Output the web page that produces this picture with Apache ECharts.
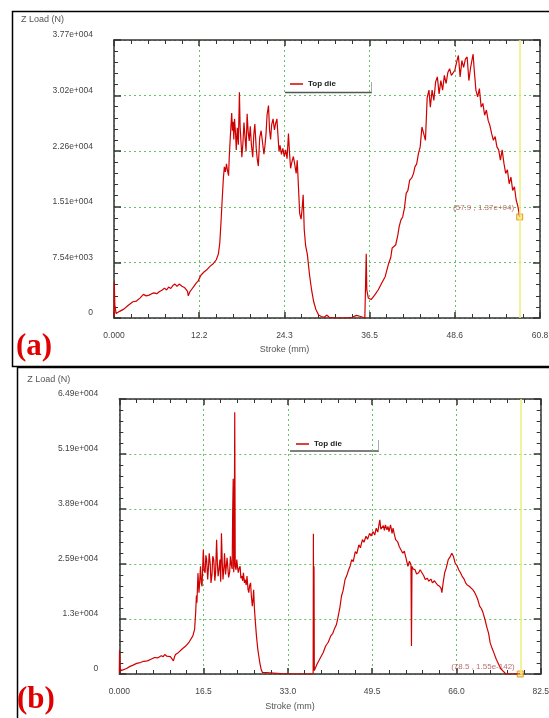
<!DOCTYPE html>
<html><head><meta charset="utf-8">
<script src="https://cdn.jsdelivr.net/npm/echarts@6/dist/echarts.min.js"></script>
<style>html,body{margin:0;padding:0;background:#fff}#c{width:549px;height:718px}</style>
</head><body><div id="c"></div>
<script>
// Stroke (mm) vs Z Load (kN) pairs
const topDieA = [[0,0.2],[0.04,4.9],[0.12,1.8],[0.3,0.6],[0.8,0.9],[1.4,1.2],[2.0,1.7],[2.7,2.2],[3.2,2.3],[3.7,2.7],[4.2,3.2],[4.6,3.0],[5.0,3.1],[5.4,3.3],[5.7,3.4],[6.1,3.3],[6.5,3.6],[6.9,3.8],[7.2,4.05],[7.5,3.8],[7.8,4.2],[8.1,4.0],[8.4,4.4],[8.7,4.6],[9.0,4.3],[9.3,4.6],[9.7,4.3],[10.1,4.1],[10.5,3.6],[10.6,3.0],[10.8,3.5],[11.1,3.9],[11.4,4.3],[11.7,4.7],[12.0,5.0],[12.4,5.8],[12.8,6.2],[13.2,6.5],[13.7,7.0],[14.2,7.4],[14.6,7.9],[14.9,8.7],[15.1,10.2],[15.3,13.5],[15.45,16.2],[15.6,18.8],[15.75,20.5],[15.9,19.8],[16.05,20.9],[16.2,20.0],[16.35,19.3],[16.45,21.8],[16.6,24.5],[16.7,26.2],[16.8,27.8],[16.9,25.4],[17.0,26.6],[17.1,24.2],[17.2,27.0],[17.35,25.0],[17.45,22.8],[17.6,25.8],[17.75,23.5],[17.9,30.6],[18.0,26.0],[18.1,24.3],[18.25,21.8],[18.4,23.7],[18.55,26.5],[18.7,24.5],[18.85,22.6],[19.0,27.7],[19.15,25.2],[19.3,24.0],[19.45,26.0],[19.6,23.6],[19.8,21.8],[19.95,24.8],[20.1,26.3],[20.3,23.0],[20.45,21.5],[20.6,20.6],[20.8,24.5],[21.0,25.4],[21.2,23.8],[21.4,22.2],[21.55,23.4],[21.7,25.0],[21.85,27.6],[22.05,28.8],[22.2,25.5],[22.35,24.2],[22.5,26.2],[22.7,27.0],[22.9,25.5],[23.05,26.3],[23.25,27.0],[23.4,24.8],[23.55,22.6],[23.7,23.4],[23.9,22.2],[24.1,23.0],[24.3,21.9],[24.5,22.8],[24.7,21.6],[24.9,25.0],[25.05,22.4],[25.2,20.3],[25.4,21.2],[25.6,21.9],[25.8,20.8],[26.0,19.6],[26.15,21.4],[26.3,21.2],[26.5,14.2],[26.7,13.4],[26.85,14.8],[27.0,16.7],[27.15,12.0],[27.35,9.8],[27.6,8.6],[27.9,5.9],[28.2,3.8],[28.5,2.2],[28.8,1.2],[29.2,0.4],[29.6,0.2],[30.0,0.1],[30.4,0.4],[30.7,0.1],[31.5,0],[33.0,0],[34.0,0.1],[34.6,0.35],[35.2,0.2],[35.8,0],[35.95,0],[36.0,8.7],[36.08,3.8],[36.3,2.7],[36.7,2.5],[37.2,3.1],[37.7,3.8],[38.2,4.7],[38.7,5.6],[39.2,7.4],[39.5,8.2],[39.7,9.5],[40.2,9.9],[40.5,11.2],[40.7,12.4],[40.95,13.3],[41.2,13.7],[41.45,14.9],[41.7,16.9],[41.95,17.3],[42.2,18.7],[42.5,19.0],[42.75,19.6],[42.95,20.5],[43.2,20.9],[43.45,22.3],[43.7,23.2],[43.95,25.9],[44.2,25.0],[44.45,24.1],[44.7,29.9],[44.95,30.9],[45.15,28.6],[45.4,30.9],[45.65,29.5],[45.9,32.0],[46.15,32.7],[46.4,30.4],[46.65,32.2],[46.9,30.9],[47.15,32.9],[47.4,31.8],[47.65,33.3],[47.9,33.8],[48.15,32.9],[48.4,33.1],[48.65,33.6],[48.9,34.7],[49.15,35.6],[49.4,32.7],[49.65,34.9],[49.9,34.0],[50.15,35.1],[50.4,35.4],[50.65,32.2],[50.9,34.0],[51.25,35.8],[51.4,33.8],[51.65,30.9],[51.9,30.0],[52.15,31.1],[52.4,28.6],[52.65,29.1],[52.9,27.5],[53.15,28.2],[53.4,26.8],[53.65,26.1],[53.9,25.0],[54.15,24.1],[54.4,24.6],[54.65,23.2],[54.9,22.8],[55.15,21.4],[55.4,22.8],[55.65,21.0],[55.9,19.6],[56.15,20.1],[56.4,18.2],[56.65,19.1],[56.9,17.3],[57.15,17.8],[57.4,16.0],[57.65,15.1],[57.9,13.7]];

const topDieB = [[0,0.2],[0.05,5.5],[0.15,1.5],[0.35,0.8],[1.4,1.3],[2.1,1.8],[2.7,2.1],[3.4,2.5],[4.1,2.7],[4.8,3.0],[5.5,3.1],[6.2,3.5],[6.9,3.9],[7.5,3.8],[8.2,4.3],[8.6,4.1],[8.9,4.6],[9.3,4.2],[9.6,4.3],[10.0,4.1],[10.3,4.0],[10.6,3.1],[10.8,4.0],[11.0,4.6],[11.6,5.1],[12.3,5.9],[13.0,6.6],[13.7,7.6],[14.4,9.0],[14.75,10.6],[14.95,14.5],[15.1,18.5],[15.2,16.8],[15.4,23.8],[15.6,19.2],[15.75,22.0],[15.9,25.4],[16.05,21.5],[16.2,20.7],[16.35,26.0],[16.45,29.3],[16.6,24.5],[16.8,23.9],[16.95,28.0],[17.1,27.0],[17.3,22.3],[17.45,25.0],[17.6,28.5],[17.8,26.0],[17.95,21.5],[18.15,23.5],[18.3,27.8],[18.5,26.9],[18.7,22.0],[18.85,23.9],[19.05,31.7],[19.2,26.0],[19.35,23.1],[19.5,24.5],[19.7,27.0],[19.85,21.8],[20.0,33.2],[20.15,26.5],[20.3,22.3],[20.5,25.5],[20.6,28.5],[20.8,23.5],[20.95,23.1],[21.1,27.4],[21.25,27.0],[21.4,22.8],[21.6,23.9],[21.75,27.8],[21.95,25.6],[22.1,24.8],[22.2,38.7],[22.3,46.1],[22.4,24.0],[22.5,27.5],[22.6,61.8],[22.7,25.4],[22.85,24.6],[23.0,27.0],[23.15,25.2],[23.3,23.9],[23.45,24.9],[23.65,25.4],[23.8,22.6],[24.0,23.1],[24.15,22.0],[24.3,23.9],[24.5,21.5],[24.65,22.3],[24.85,21.0],[25.0,23.1],[25.2,20.0],[25.35,19.2],[25.5,20.8],[25.7,21.5],[25.85,18.4],[26.05,16.0],[26.2,17.8],[26.3,19.9],[26.45,15.5],[26.6,12.9],[26.85,9.0],[27.1,6.0],[27.3,4.3],[27.55,2.4],[27.75,1.2],[28.0,0.4],[28.25,0],[33.0,0],[37.95,0],[38.0,33.1],[38.05,3.0],[38.12,25.4],[38.18,0.8],[38.7,2.3],[39.4,3.9],[39.9,5.0],[40.4,6.6],[40.9,7.5],[41.4,9.0],[41.8,9.6],[42.1,10.6],[42.5,11.6],[42.8,13.3],[43.2,15.8],[43.5,18.4],[43.8,19.6],[44.2,22.3],[44.5,23.1],[44.9,24.6],[45.2,25.5],[45.5,27.0],[45.8,26.5],[46.2,28.9],[46.5,28.4],[46.9,30.5],[47.2,29.8],[47.6,31.7],[47.9,31.1],[48.3,32.5],[48.6,31.8],[49.0,33.2],[49.3,32.6],[49.7,33.6],[50.0,32.8],[50.3,34.4],[50.6,33.5],[51.0,36.4],[51.2,34.2],[51.4,34.0],[51.7,35.0],[51.9,33.9],[52.1,35.2],[52.4,34.0],[52.6,34.8],[52.8,33.6],[53.1,35.2],[53.4,33.2],[53.6,34.4],[53.8,33.2],[54.1,31.7],[54.5,31.2],[54.8,30.1],[55.1,30.4],[55.5,28.5],[55.8,29.0],[56.2,27.0],[56.5,25.4],[56.8,26.6],[57.0,26.2],[57.1,25.8],[57.2,6.6],[57.3,25.4],[57.5,24.8],[57.9,24.6],[58.2,23.6],[58.6,23.9],[58.9,24.6],[59.25,24.6],[59.6,23.2],[59.9,22.3],[60.3,22.6],[60.6,21.9],[61.0,22.4],[61.3,21.5],[61.7,22.0],[62.0,21.9],[62.3,21.0],[62.7,20.7],[63.0,20.2],[63.15,19.2],[63.4,21.5],[63.7,23.9],[64.0,25.0],[64.4,27.0],[64.7,27.5],[65.1,28.5],[65.4,27.8],[65.75,26.2],[66.1,25.6],[66.45,24.6],[66.8,23.9],[67.1,23.1],[67.5,22.4],[67.8,21.5],[68.1,21.0],[68.5,20.7],[68.8,20.3],[69.2,19.9],[69.5,19.4],[69.9,18.4],[70.2,17.5],[70.55,16.0],[70.9,15.4],[71.2,14.5],[71.6,12.8],[71.9,11.3],[72.3,9.6],[72.6,7.4],[73.0,6.0],[73.3,5.1],[73.8,3.5],[74.7,1.2],[75.7,0],[78.5,0]];

const xTicksA = ['0.000','12.2','24.3','36.5','48.6','60.8'];
const yTicksA = ['0','7.54e+003','1.51e+004','2.26e+004','3.02e+004','3.77e+004'];
const xTicksB = ['0.000','16.5','33.0','49.5','66.0','82.5'];
const yTicksB = ['0','1.3e+004','2.59e+004','3.89e+004','5.19e+004','6.49e+004'];
const xMaxA = 60.8, yMaxA = 37.7, xMaxB = 82.5, yMaxB = 64.9;
const cursorA = [57.9, 13.7], cursorLabelA = '(57.9 , 1.37e+04)';
const cursorB = [78.5, 0], cursorLabelB = '(78.5 , 1.55e-142)';
const seriesName = 'Top die';

const FONT = '"Liberation Sans", Arial, sans-serif';
const frameCol = '#333';
const gridLine = {show:true, lineStyle:{color:'#66c266', type:[2,3], width:1}};

function xAxisPair(g, max, labels, namePad, nameGap) {
  const iv = max / 5;
  const base = {type:'value', gridIndex:g, min:0, max:max, interval:iv,
    axisLine:{show:true, onZero:false, lineStyle:{color:frameCol, width:1.5}},
    axisTick:{show:true, inside:true, length:6, lineStyle:{color:frameCol, width:1.5}},
    minorTick:{show:true, splitNumber:5, length:4, lineStyle:{color:frameCol, width:1}}};
  return [
    Object.assign({}, base, {position:'bottom', splitLine:gridLine,
      axisLabel:{show:true, margin:13, fontSize:8.5, color:'#444', fontFamily:FONT,
        formatter:v => labels[Math.round(v/iv)]},
      name:'Stroke (mm)', nameLocation:'middle', nameGap:nameGap,
      nameTextStyle:{fontSize:9, color:'#555', fontFamily:FONT, padding:[0,namePad,0,0]}}),
    Object.assign({}, base, {position:'top', splitLine:{show:false}, axisLabel:{show:false}})
  ];
}
function yAxisPair(g, max, labels) {
  const iv = max / 5;
  const base = {type:'value', gridIndex:g, min:0, max:max, interval:iv,
    axisLine:{show:true, onZero:false, lineStyle:{color:frameCol, width:1.5}},
    axisTick:{show:true, inside:true, length:7, lineStyle:{color:frameCol, width:1.5}},
    minorTick:{show:true, splitNumber:5, length:4, lineStyle:{color:frameCol, width:1}}};
  return [
    Object.assign({}, base, {position:'left', splitLine:gridLine,
      axisLabel:{show:true, margin:21, fontSize:8.5, color:'#444', fontFamily:FONT,
        verticalAlign:'bottom', lineHeight:10,
        formatter:v => labels[Math.round(v/iv)]}}),
    Object.assign({}, base, {position:'right', splitLine:{show:false}, axisLabel:{show:false}})
  ];
}

function curve(xi, yi, data, cursorX) {
  return {type:'line', name:seriesName, xAxisIndex:xi, yAxisIndex:yi, data:data,
    showSymbol:false, symbol:'none', smooth:false,
    lineStyle:{color:'#d10000', width:1.2}, itemStyle:{color:'#d10000'},
    markLine:{silent:true, symbol:['none','none'], label:{show:false},
      lineStyle:{color:'#eeee7a', width:1.5, type:'solid'}, data:[{xAxis:cursorX}]}};
}
function cursorMark(xi, yi, pt, text, off) {
  return {type:'scatter', xAxisIndex:xi, yAxisIndex:yi, data:[pt], symbol:'rect', symbolSize:6,
    itemStyle:{color:'#ffe07a', borderColor:'#e08a00', borderWidth:1}, silent:true,
    label:{show:true, position:'left', distance:2, offset:[0,off], formatter:text,
      color:'#a84848', fontSize:8, fontFamily:FONT}};
}

const xa = xAxisPair(0, xMaxA, xTicksA, 85, 27.5);
const xb = xAxisPair(1, xMaxB, xTicksB, 80, 28);
const ya = yAxisPair(0, yMaxA, yTicksA);
const yb = yAxisPair(1, yMaxB, yTicksB);
ya[0].name = 'Z Load (N)'; yb[0].name = 'Z Load (N)';
ya[0].nameLocation = 'end'; yb[0].nameLocation = 'end';
ya[0].nameGap = 20; yb[0].nameGap = 19;
ya[0].nameTextStyle = {fontSize:9, color:'#555', fontFamily:FONT, align:'right', verticalAlign:'middle', padding:[0,50,0,0]};
yb[0].nameTextStyle = {fontSize:9, color:'#555', fontFamily:FONT, align:'right', verticalAlign:'middle', padding:[0,49,0,0]};

const legendBase = {data:[seriesName], padding:0, icon:'rect', itemWidth:13, itemHeight:1.5,
  selectedMode:false, textStyle:{fontSize:8, fontWeight:'bold', color:'#222', fontFamily:FONT}};

const chart = echarts.init(document.getElementById('c'), null, {renderer:'canvas'});
chart.setOption({
  animation:false,
  backgroundColor:'#fff',
  grid:[
    {left:114, top:40, width:426, height:278, outerBoundsMode:'none'},
    {left:119.3, top:399, width:421.4, height:275, outerBoundsMode:'none'}
  ],
  xAxis:[xa[0], xa[1], xb[0], xb[1]],
  yAxis:[ya[0], ya[1], yb[0], yb[1]],
  legend:[
    Object.assign({}, legendBase, {left:290, top:80}),
    Object.assign({}, legendBase, {left:296, top:440})
  ],
  series:[
    curve(0, 0, topDieA, cursorA[0]),
    cursorMark(0, 0, cursorA, cursorLabelA, -9),
    curve(2, 2, topDieB, cursorB[0]),
    cursorMark(2, 2, cursorB, cursorLabelB, -7)
  ],
  graphic:[
    {type:'rect', silent:true, shape:{x:12.5, y:11.5, width:600, height:355}, style:{fill:'none', stroke:'#000', lineWidth:1.5}},
    {type:'rect', silent:true, shape:{x:17.5, y:367.5, width:600, height:400}, style:{fill:'none', stroke:'#000', lineWidth:1.5}},
    {type:'line', silent:true, shape:{x1:285, y1:92.5, x2:372, y2:92.5}, style:{stroke:'#555', lineWidth:1.5}},
    {type:'line', silent:true, shape:{x1:371.5, y1:82, x2:371.5, y2:92.5}, style:{stroke:'#aaa', lineWidth:1}},
    {type:'line', silent:true, shape:{x1:290, y1:451, x2:379, y2:451}, style:{stroke:'#555', lineWidth:1.5}},
    {type:'line', silent:true, shape:{x1:378.5, y1:440, x2:378.5, y2:451}, style:{stroke:'#aaa', lineWidth:1}},
    {type:'text', silent:true, left:16, top:331, style:{text:'(a)', fill:'#e00000', font:'bold 31px "Liberation Serif", "Times New Roman", serif'}},
    {type:'text', silent:true, left:17, top:684, style:{text:'(b)', fill:'#e00000', font:'bold 31px "Liberation Serif", "Times New Roman", serif'}}
  ]
});
</script>
</body></html>
